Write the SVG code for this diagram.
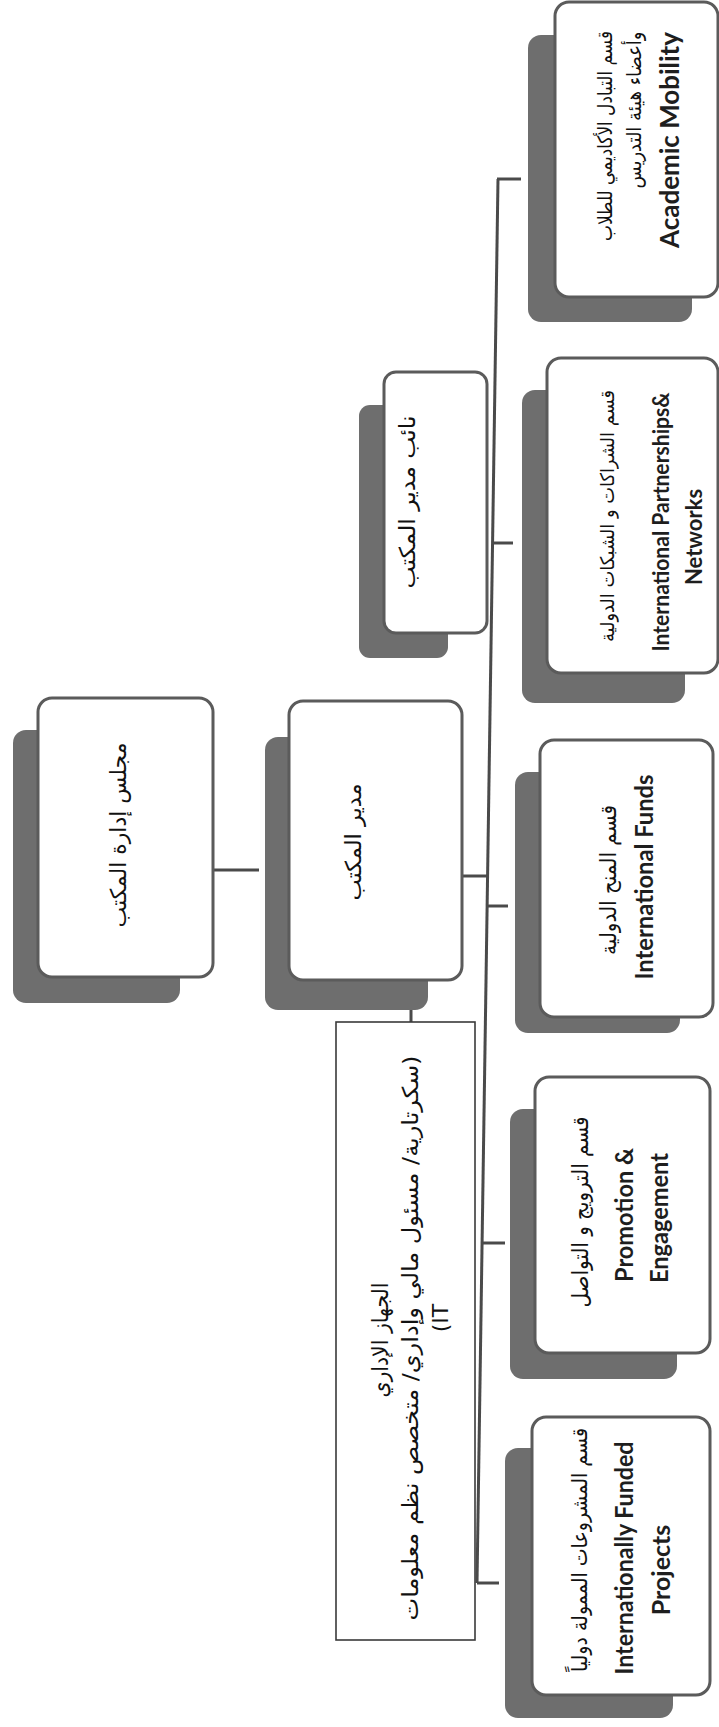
<svg xmlns="http://www.w3.org/2000/svg" width="719" height="1727" viewBox="0 0 719 1727">
<style>
.bg{fill:#ffffff}
.box{fill:#ffffff;stroke:#5b5b5b;stroke-width:3}
.shadow{fill:#6e6e6e}
.plain{fill:#ffffff;stroke:#3a3a3a;stroke-width:1.6}
.conn{stroke:#4a4a4a;stroke-width:3;fill:none}
.ar{font-family:"DejaVu Sans","Noto Sans",sans-serif;font-size:22px;fill:#111111;text-anchor:middle;dominant-baseline:central}
.en{font-family:Lato,"Liberation Sans",sans-serif;font-weight:700;font-size:25px;fill:#1e1e1e;text-anchor:middle;dominant-baseline:central}
</style>
<rect class="bg" x="0" y="0" width="719" height="1727"/>

<g id="connectors">
  <line class="conn" x1="213" y1="870" x2="259" y2="870"/>
  <line class="conn" x1="462" y1="876" x2="488" y2="876"/>
  <line class="conn" x1="498" y1="179" x2="477" y2="1583"/>
  <line class="conn" x1="497" y1="179" x2="521" y2="179"/>
  <line class="conn" x1="492" y1="543" x2="513" y2="543"/>
  <line class="conn" x1="487" y1="906" x2="508" y2="906"/>
  <line class="conn" x1="482" y1="1243" x2="505" y2="1243"/>
  <line class="conn" x1="477" y1="1583" x2="499" y2="1583"/>
  <line class="conn" x1="411" y1="931" x2="411" y2="1022"/>
</g>

<g id="board">
  <rect class="shadow" x="13" y="730" width="167" height="273" rx="13"/>
  <rect class="box" x="38" y="698" width="175" height="279" rx="14"/>
  <text class="ar" transform="translate(118,835) rotate(-90)" textLength="185" lengthAdjust="spacingAndGlyphs">مجلس إدارة المكتب</text>
</g>

<g id="director">
  <rect class="shadow" x="265" y="737" width="163" height="273" rx="13"/>
  <rect class="box" x="289" y="701" width="173" height="279" rx="14"/>
  <text class="ar" transform="translate(353,842) rotate(-90)" textLength="117" lengthAdjust="spacingAndGlyphs">مدير المكتب</text>
</g>

<g id="deputy">
  <rect class="shadow" x="359" y="405" width="89" height="253" rx="11"/>
  <rect class="box" x="384" y="372" width="103" height="261" rx="12"/>
  <text class="ar" transform="translate(407,502) rotate(-90)" textLength="173" lengthAdjust="spacingAndGlyphs">نائب مدير المكتب</text>
</g>

<g id="academic-mobility">
  <rect class="shadow" x="528" y="35" width="164" height="287" rx="13"/>
  <rect class="box" x="555" y="2" width="163" height="295" rx="14"/>
  <text class="ar" transform="translate(605,136) rotate(-90)" style="font-size:20px" textLength="210" lengthAdjust="spacingAndGlyphs">قسم التبادل الأكاديمي للطلاب</text>
  <text class="ar" transform="translate(634,110) rotate(-90)" style="font-size:20px" textLength="157" lengthAdjust="spacingAndGlyphs">وأعضاء هيئة التدريس</text>
  <text class="en" transform="translate(668,140) rotate(-90)" style="font-size:27px" textLength="216" lengthAdjust="spacingAndGlyphs">Academic Mobility</text>
</g>

<g id="partnerships">
  <rect class="shadow" x="522" y="390" width="163" height="313" rx="13"/>
  <rect class="box" x="547" y="358" width="171" height="315" rx="14"/>
  <text class="ar" transform="translate(607,516) rotate(-90)" style="font-size:19px" textLength="252" lengthAdjust="spacingAndGlyphs">قسم الشراكات و الشبكات الدولية</text>
  <text class="en" transform="translate(660,522) rotate(-90)" style="font-size:22px" textLength="259" lengthAdjust="spacingAndGlyphs">International Partnerships&amp;</text>
  <text class="en" transform="translate(693,537) rotate(-90)" style="font-size:22px">Networks</text>
</g>

<g id="funds">
  <rect class="shadow" x="515" y="772" width="165" height="261" rx="13"/>
  <rect class="box" x="540" y="740" width="173" height="277" rx="14"/>
  <text class="ar" transform="translate(608,880) rotate(-90)" textLength="150" lengthAdjust="spacingAndGlyphs">قسم المنح الدولية</text>
  <text class="en" transform="translate(643,877) rotate(-90)" textLength="205" lengthAdjust="spacingAndGlyphs">International Funds</text>
</g>

<g id="promotion">
  <rect class="shadow" x="510" y="1109" width="167" height="270" rx="13"/>
  <rect class="box" x="535" y="1077" width="175" height="276" rx="14"/>
  <text class="ar" transform="translate(580,1212) rotate(-90)" textLength="191" lengthAdjust="spacingAndGlyphs">قسم الترويج و التواصل</text>
  <text class="en" transform="translate(623,1215) rotate(-90)" textLength="134" lengthAdjust="spacingAndGlyphs">Promotion &amp;</text>
  <text class="en" transform="translate(658,1218) rotate(-90)" textLength="130" lengthAdjust="spacingAndGlyphs">Engagement</text>
</g>

<g id="funded-projects">
  <rect class="shadow" x="505" y="1448" width="168" height="270" rx="13"/>
  <rect class="box" x="532" y="1417" width="178" height="278" rx="14"/>
  <text class="ar" transform="translate(580,1550) rotate(-90)" style="font-size:21px" textLength="244" lengthAdjust="spacingAndGlyphs">قسم المشروعات الممولة دولياً</text>
  <text class="en" transform="translate(623,1558) rotate(-90)" textLength="233" lengthAdjust="spacingAndGlyphs">Internationally Funded</text>
  <text class="en" transform="translate(660,1570) rotate(-90)">Projects</text>
</g>

<g id="admin">
  <rect class="plain" x="336" y="1022" width="139" height="618"/>
  <text class="ar" transform="translate(380,1340) rotate(-90)" textLength="115" lengthAdjust="spacingAndGlyphs">الجهاز الإداري</text>
  <text class="ar" transform="translate(410,1338) rotate(-90)" textLength="565" lengthAdjust="spacingAndGlyphs">&#x200F;(سكرتارية/ مسئول مالي وإداري/ متخصص نظم معلومات</text>
  <text class="ar" transform="translate(440,1318) rotate(-90)">(IT</text>
</g>
</svg>
